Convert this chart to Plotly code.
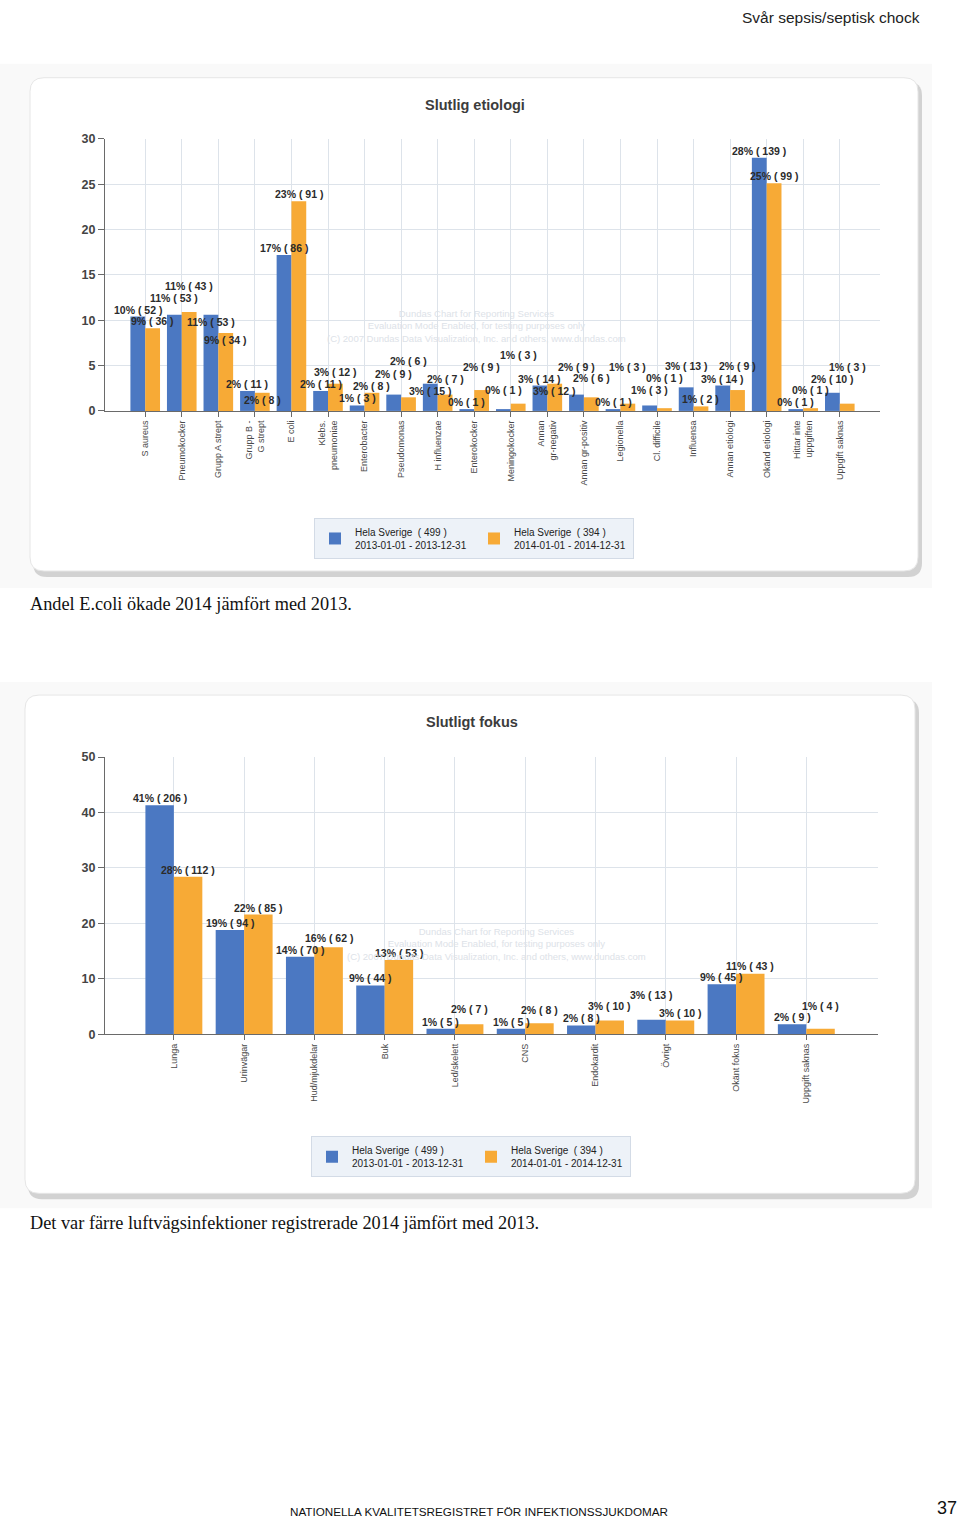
import plotly.graph_objects as go

W, H = 960, 1527
FONT = "Liberation Sans, Arial, sans-serif"
BLUE = "#4b78c2"
ORANGE = "#f7aa36"

# ---------------- data: Slutlig etiologi ----------------
etio_categories = ["S aureus", "Pneumokocker", "Grupp A strept", "Grupp B -<br>G strept", "E coli",
                   "Klebs.<br>pneumoniae", "Enterobacter", "Pseudomonas", "H influenzae", "Enterokocker",
                   "Meningokocker", "Annan<br>gr-negativ", "Annan gr-positiv", "Legionella", "Cl. difficile",
                   "Influensa", "Annan etiologi", "Okänd etiologi", "Hittar inte<br>uppgiften", "Uppgift saknas"]
etio_pct_2013 = [10.4, 10.6, 10.6, 2.2, 17.2, 2.2, 0.6, 1.8, 3.0, 0.2,
                 0.2, 2.8, 1.8, 0.2, 0.6, 2.6, 2.8, 27.9, 0.2, 2.0]
etio_n_2013 = [52, 53, 53, 11, 86, 11, 3, 9, 15, 1,
               1, 14, 9, 1, 3, 13, 14, 139, 1, 10]
etio_pct_2014 = [9.1, 10.9, 8.6, 2.0, 23.1, 3.0, 2.0, 1.5, 1.8, 2.3,
                 0.8, 3.0, 1.5, 0.8, 0.3, 0.5, 2.3, 25.1, 0.3, 0.8]
etio_n_2014 = [36, 43, 34, 8, 91, 12, 8, 6, 7, 9,
               3, 12, 6, 3, 1, 2, 9, 99, 1, 3]
etio_yticks = [0, 5, 10, 15, 20, 25, 30]

# ---------------- data: Slutligt fokus ----------------
fokus_categories = ["Lunga", "Urinvägar", "Hud/mjukdelar", "Buk", "Led/skelett", "CNS",
                    "Endokardit", "Övrigt", "Okänt fokus", "Uppgift saknas"]
fokus_pct_2013 = [41.3, 18.8, 14.0, 8.8, 1.0, 1.0, 1.6, 2.6, 9.0, 1.8]
fokus_n_2013 = [206, 94, 70, 44, 5, 5, 8, 13, 45, 9]
fokus_pct_2014 = [28.4, 21.6, 15.7, 13.4, 1.8, 2.0, 2.5, 2.5, 10.9, 1.0]
fokus_n_2014 = [112, 85, 62, 53, 7, 8, 10, 10, 43, 4]
fokus_yticks = [0, 10, 20, 30, 40, 50]

total_2013 = 499
total_2014 = 394
period_2013 = "2013-01-01 - 2013-12-31"
period_2014 = "2014-01-01 - 2014-12-31"

BARGAP = 0.19

# vertical placement correction (page rendering offset/scale observed in the viewer)
Y_OFF, Y_SCALE = 7.3, 0.9903


def yc(y):
    return min(max((y - Y_OFF) / Y_SCALE, 0), H)


def px(x):
    return x / W


def py(y):
    return 1 - yc(y) / H


# plot areas in page pixels (left, right, top, bottom)
TOP_AREA = (105, 880, 139, 411)
BOT_AREA = (105, 878, 757, 1034)
TOP_XR = [-1.1, len(etio_categories) - 1 + 1.1]
BOT_XR = [-0.98, len(fokus_categories) - 1 + 1.02]
TOP_YR = [0, 30]
BOT_YR = [0, 50]


def rrect(x0, y0, x1, y1, r):
    pts = [
        ("M", (x0 + r, y0)), ("L", (x1 - r, y0)), ("Q", (x1, y0), (x1, y0 + r)),
        ("L", (x1, y1 - r)), ("Q", (x1, y1), (x1 - r, y1)), ("L", (x0 + r, y1)),
        ("Q", (x0, y1), (x0, y1 - r)), ("L", (x0, y0 + r)), ("Q", (x0, y0), (x0 + r, y0)),
    ]
    s = ""
    for p in pts:
        coords = " ".join(f"{px(a):.5f},{py(b):.5f}" for a, b in p[1:])
        s += f"{p[0]} {coords} "
    return s + "Z"


CHAR_W = {"%": 0.889, " ": 0.278, "(": 0.333, ")": 0.333}


def text_width(t, size):
    return sum(CHAR_W.get(c, 0.556) for c in t) * size


def overlaps(a, b):
    return a[0] < b[2] - 1 and b[0] < a[2] - 1 and a[1] < b[3] - 0.5 and b[1] < a[3] - 0.5


def label_annotations(xref, yref, vals_a, n_a, vals_b, n_b, xr, yr, area):
    left, right, top_px, bottom_px = area
    top_px, bottom_px = yc(top_px), yc(bottom_px)
    off = (1 - BARGAP) / 4
    sx = (right - left) / (xr[1] - xr[0])
    sy = (bottom_px - top_px) / (yr[1] - yr[0])
    items = []
    for i in range(len(vals_a)):
        items.append((i - off, vals_a[i], n_a[i]))
        items.append((i + off, vals_b[i], n_b[i]))
    placed = []
    anns = []
    size = 10.5
    h = 12
    for x, v, n in items:
        txt = f"{int(v + 0.5)}% ( {n} )"
        w = text_width(txt, size) + 2
        cx = left + (x - xr[0]) * sx
        top = bottom_px - (v - yr[0]) * sy
        cands = [1]
        if v * sy > h + 4:
            cands.append(-(h + 1))
        cands += list(range(2, 160))
        chosen = cands[-1]
        box = None
        for s in cands:
            b = (cx - w / 2, top - s - h, cx + w / 2, top - s)
            if all(not overlaps(b, q) for q in placed):
                chosen = s
                box = b
                break
        placed.append(box)
        anns.append(dict(xref=xref, yref=yref, x=x, y=v, yanchor="bottom", yshift=chosen - 2,
                         text=txt, showarrow=False,
                         font=dict(family=FONT, size=size, color="#2b2b2b", weight="bold")))
    return anns


fig = go.Figure()

fig.add_trace(go.Bar(x=list(range(len(etio_categories))), y=etio_pct_2013, marker_color=BLUE,
                     name=f"Hela Sverige  ( {total_2013} )<br>{period_2013}",
                     xaxis="x", yaxis="y", legend="legend"))
fig.add_trace(go.Bar(x=list(range(len(etio_categories))), y=etio_pct_2014, marker_color=ORANGE,
                     name=f"Hela Sverige  ( {total_2014} )<br>{period_2014}",
                     xaxis="x", yaxis="y", legend="legend"))
fig.add_trace(go.Bar(x=list(range(len(fokus_categories))), y=fokus_pct_2013, marker_color=BLUE,
                     name=f"Hela Sverige  ( {total_2013} )<br>{period_2013}",
                     xaxis="x2", yaxis="y2", legend="legend2"))
fig.add_trace(go.Bar(x=list(range(len(fokus_categories))), y=fokus_pct_2014, marker_color=ORANGE,
                     name=f"Hela Sverige  ( {total_2014} )<br>{period_2014}",
                     xaxis="x2", yaxis="y2", legend="legend2"))
fig.update_traces(marker_line_width=0, hoverinfo="skip")


def xaxis_cfg(area, xr, cats, anchor):
    return dict(domain=[px(area[0]), px(area[1])], range=xr, anchor=anchor,
                tickmode="array", tickvals=list(range(len(cats))), ticktext=cats,
                tickangle=-90, tickfont=dict(family=FONT, size=9, color="#4a4a4a"),
                showgrid=True, gridcolor="#dde3ea", gridwidth=1,
                showline=True, linecolor="#6a6a6a", linewidth=1,
                ticks="outside", ticklen=5, tickcolor="#6a6a6a", zeroline=False, fixedrange=True)


def yaxis_cfg(area, yr, ticks, anchor):
    return dict(domain=[py(area[3]), py(area[2])], range=yr, anchor=anchor,
                tickmode="array", tickvals=ticks,
                tickfont=dict(family=FONT, size=12.5, color="#444444", weight="bold"),
                showgrid=True, gridcolor="#dde3ea", gridwidth=1,
                showline=True, linecolor="#6a6a6a", linewidth=1,
                ticks="outside", ticklen=6, tickcolor="#6a6a6a", zeroline=False, fixedrange=True)


legend_common = dict(orientation="h", xanchor="left", yanchor="top",
                     bgcolor="#edf2f8", bordercolor="#d3dbe6", borderwidth=1,
                     font=dict(family=FONT, size=10, color="#222222"),
                     entrywidth=114, entrywidthmode="pixels", itemwidth=30,
                     tracegroupgap=0, traceorder="normal")

fig.update_layout(
    width=W, height=H, margin=dict(l=0, r=0, t=0, b=0),
    paper_bgcolor="white", plot_bgcolor="#f5f8fb",
    barmode="group", bargap=BARGAP, bargroupgap=0,
    xaxis=xaxis_cfg(TOP_AREA, TOP_XR, etio_categories, "y"),
    yaxis=yaxis_cfg(TOP_AREA, TOP_YR, etio_yticks, "x"),
    xaxis2=xaxis_cfg(BOT_AREA, BOT_XR, fokus_categories, "y2"),
    yaxis2=yaxis_cfg(BOT_AREA, BOT_YR, fokus_yticks, "x2"),
    legend=dict(x=px(314), y=py(518), **legend_common),
    legend2=dict(x=px(311), y=py(1136), **legend_common),
    showlegend=True,
)

shapes = []
for (bx0, by0, bx1, by1), (fx0, fy0, fx1, fy1) in [((0, 64, 932, 588), (30, 78, 918, 571)),
                                                    ((0, 682, 932, 1208), (25, 695, 915, 1193))]:
    shapes.append(dict(type="rect", xref="paper", yref="paper", x0=px(bx0), x1=px(bx1),
                       y0=py(by1), y1=py(by0), fillcolor="#f9f9f9", line_width=0, layer="below"))
    shapes.append(dict(type="path", xref="paper", yref="paper",
                       path=rrect(fx0 + 3, fy0 + 4, fx1 + 4, fy1 + 6, 14),
                       fillcolor="#d2d2d2", line_width=0, layer="below"))
    shapes.append(dict(type="path", xref="paper", yref="paper",
                       path=rrect(fx0, fy0, fx1, fy1, 14),
                       fillcolor="white", line=dict(color="#e6e6e6", width=1), layer="below"))
fig.update_layout(shapes=shapes)

anns = []
anns += label_annotations("x", "y", etio_pct_2013, etio_n_2013, etio_pct_2014, etio_n_2014,
                          TOP_XR, TOP_YR, TOP_AREA)
anns += label_annotations("x2", "y2", fokus_pct_2013, fokus_n_2013, fokus_pct_2014, fokus_n_2014,
                          BOT_XR, BOT_YR, BOT_AREA)

wm = ("Dundas Chart for Reporting Services<br>Evaluation Mode Enabled, for testing purposes only<br>"
      "(C) 2007 Dundas Data Visualization, Inc. and others, www.dundas.com")
anns.append(dict(xref="paper", yref="paper", x=px(476), y=py(326), yanchor="middle", text=wm,
                 showarrow=False, font=dict(family=FONT, size=9.5, color="#dde2e8")))
anns.append(dict(xref="paper", yref="paper", x=px(496), y=py(944), yanchor="middle", text=wm,
                 showarrow=False, font=dict(family=FONT, size=9.5, color="#dde2e8")))


def page_text(x, y, text, size, xanchor="center", yanchor="middle", family=FONT, color="#111111",
              weight="normal"):
    return dict(xref="paper", yref="paper", x=px(x), y=py(y), xanchor=xanchor, yanchor=yanchor,
                text=text, showarrow=False,
                font=dict(family=family, size=size, color=color, weight=weight))


SERIF = "Liberation Serif, Times New Roman, serif"
anns.append(page_text(475, 105, "Slutlig etiologi", 14.5, color="#3c3c3c", weight="bold"))
anns.append(page_text(472, 722, "Slutligt fokus", 14.5, color="#3c3c3c", weight="bold"))
anns.append(page_text(922, 0, "Svår sepsis/septisk chock", 15.5, xanchor="right", yanchor="top",
                      color="#222222"))
anns.append(page_text(28, 604, "Andel E.coli ökade 2014 jämfört med 2013.", 18.3, xanchor="left",
                      family=SERIF))
anns.append(page_text(28, 1223, "Det var färre luftvägsinfektioner registrerade 2014 jämfört med 2013.",
                      18.3, xanchor="left", family=SERIF))
anns.append(page_text(479, 1527, "NATIONELLA KVALITETSREGISTRET FÖR INFEKTIONSSJUKDOMAR", 11.7,
                      yanchor="bottom"))
anns.append(page_text(959, 1527, "37", 18, xanchor="right", yanchor="bottom"))

fig.update_layout(annotations=anns)

page_css = ("document.documentElement.style.margin='0';document.documentElement.style.padding='0';"
            "document.documentElement.style.overflow='hidden';"
            "document.body.style.margin='0';document.body.style.padding='0';"
            "document.body.style.overflow='hidden';")
fig.write_html("out.html", config={"displayModeBar": False}, post_script=page_css)
